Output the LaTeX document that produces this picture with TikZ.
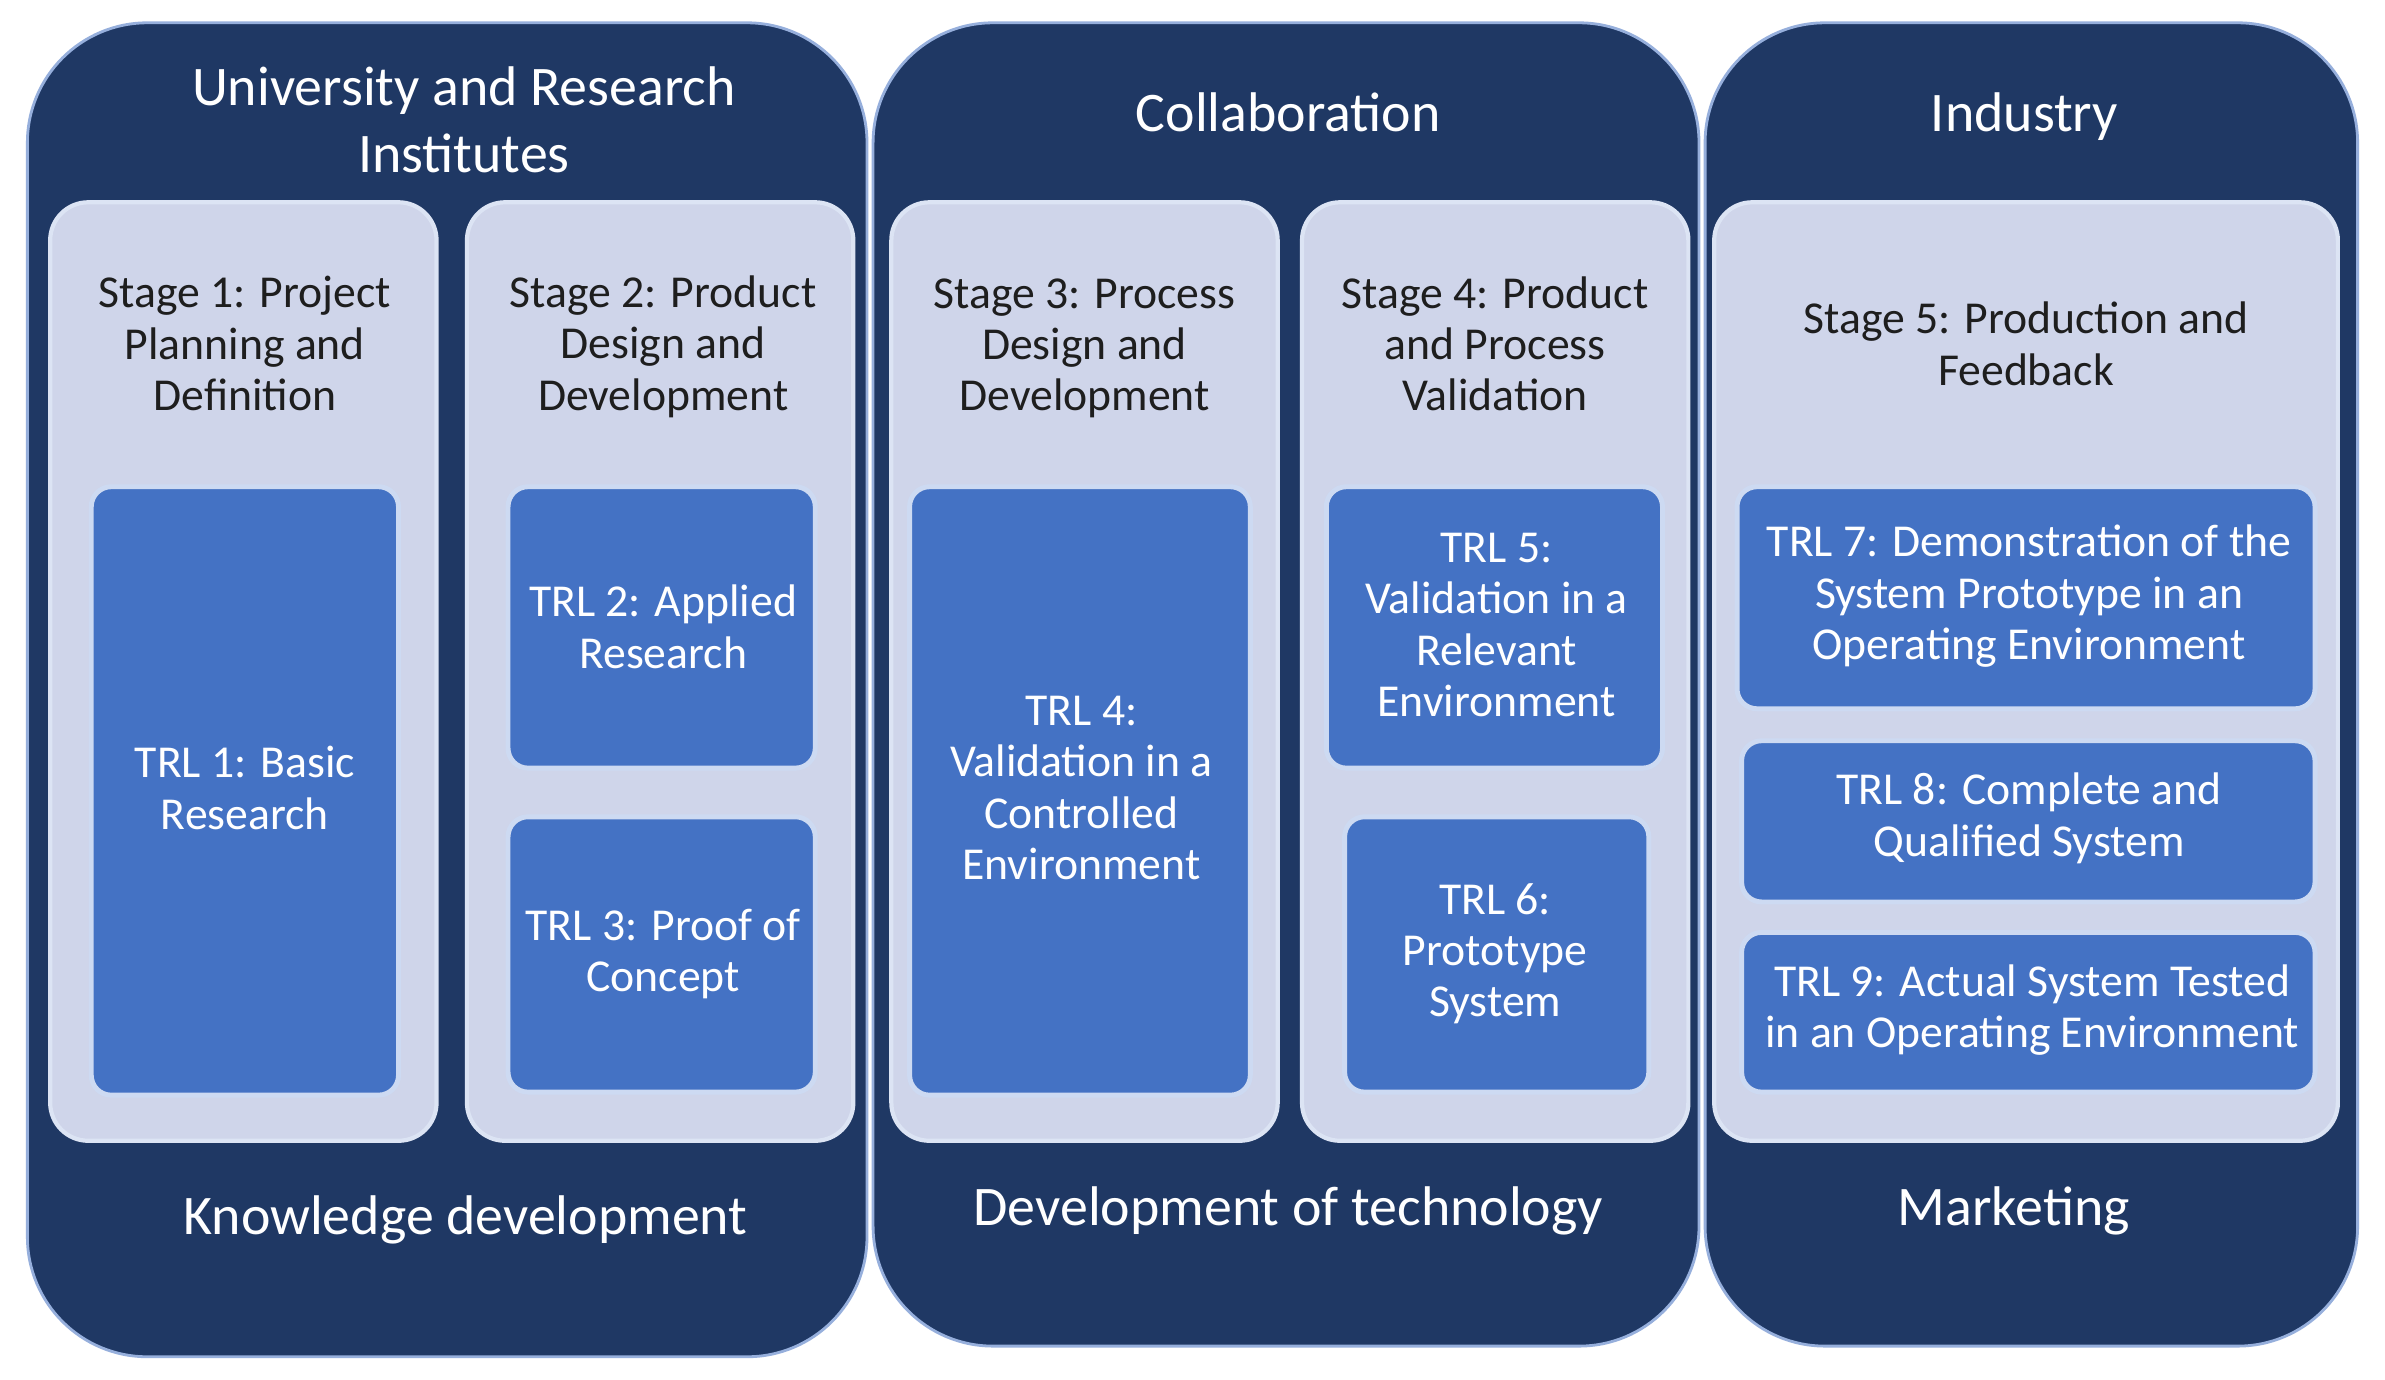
\documentclass[tikz,border=0pt]{standalone}
\usepackage{fontspec}
\setmainfont{Carlito}
\usetikzlibrary{fit}
\definecolor{navy}{RGB}{31,56,100}
\definecolor{pale}{RGB}{207,213,234}
\definecolor{paleedge}{RGB}{220,228,244}
\definecolor{trlblue}{RGB}{68,114,196}
\definecolor{trledge}{RGB}{205,218,242}
\definecolor{panedge}{RGB}{150,175,220}
\definecolor{darktext}{RGB}{30,30,30}
\begin{document}
\begin{tikzpicture}[x=0.01521cm,y=-0.01521cm,
  panel/.style={fill=navy, draw=panedge, line width=0.8pt, rounded corners=1.2cm, inner sep=0pt},
  stagebox/.style={fill=pale, draw=paleedge, line width=1.2pt, rounded corners=0.38cm, inner sep=0pt},
  trlbox/.style={fill=trlblue, draw=trledge, line width=1.4pt, rounded corners=0.2cm, inner sep=0pt},
  titletext/.style={text=white, font=\fontsize{15.9}{19}\selectfont, align=center, inner sep=0pt},
  bottomtext/.style={text=white, font=\fontsize{15.9}{19}\selectfont, align=center, inner sep=0pt},
  stagetext/.style={text=darktext, font=\fontsize{13}{14.6}\selectfont, align=center, inner sep=0pt},
  trltext/.style={text=white, font=\fontsize{13}{14.6}\selectfont, align=center, inner sep=0pt}
]
\useasboundingbox[fill=white] (0,0) rectangle (1568,907);

% outer panels
\node[panel, fit={(18,15) (570,892)}] (p1) {};
\node[panel, fit={(574,15) (1117,885)}] (p2) {};
\node[panel, fit={(1121,15) (1550,885)}] (p3) {};

% stage boxes
\node[stagebox, fit={(33,133) (287,750)}] (s1) {};
\node[stagebox, fit={(307,133) (561,750)}] (s2) {};
\node[stagebox, fit={(586,133) (840,750)}] (s3) {};
\node[stagebox, fit={(856,133) (1110,750)}] (s4) {};
\node[stagebox, fit={(1127,133) (1537,750)}] (s5) {};

% TRL boxes
\node[trlbox, fit={(60,320) (262,720)}] (t1) {};
\node[trlbox, fit={(334,320) (536,505)}] (t2) {};
\node[trlbox, fit={(334,537) (536,718)}] (t3) {};
\node[trlbox, fit={(598,320) (822,720)}] (t4) {};
\node[trlbox, fit={(872,320) (1093,505)}] (t5) {};
\node[trlbox, fit={(884,537) (1084,718)}] (t6) {};
\node[trlbox, fit={(1142,320) (1522,466)}] (t7) {};
\node[trlbox, fit={(1145,487) (1522,593)}] (t8) {};
\node[trlbox, fit={(1145,613) (1522,718)}] (t9) {};

% titles
\node[titletext] (h1) at (305,79) {University and Research\\Institutes};
\node[titletext] (h2) at (847,74) {Collaboration};
\node[titletext] (h3) at (1331,77) {Industry};

% stage texts
\node[stagetext] (l1) at (161,226) {Stage 1: Project\\Planning and\\Definition};
\node[stagetext] (l2) at (436,228) {Stage 2: Product\\Design and\\Development};
\node[stagetext] (l3) at (713,229) {Stage 3: Process\\Design and\\Development};
\node[stagetext] (l4) at (983,226) {Stage 4: Product\\and Process\\Validation};
\node[stagetext] (l5) at (1332,226) {Stage 5: Production and\\Feedback};

% TRL texts
\node[trltext] (r1) at (161,518) {TRL 1: Basic\\Research};
\node[trltext] (r2) at (436,412) {TRL 2: Applied\\Research};
\node[trltext] (r3) at (436,627) {TRL 3: Proof of\\Concept};
\node[trltext] (r4) at (711,518) {TRL 4:\\Validation in a\\Controlled\\Environment};
\node[trltext] (r5) at (984,411) {TRL 5:\\Validation in a\\Relevant\\Environment};
\node[trltext] (r6) at (983,627) {TRL 6:\\Prototype\\System};
\node[trltext] (r7) at (1334,392) {TRL 7: Demonstration of the\\System Prototype in an\\Operating Environment};
\node[trltext] (r8) at (1334,538) {TRL 8: Complete and\\Qualified System};
\node[trltext] (r9) at (1336,664) {TRL 9: Actual System Tested\\in an Operating Environment};

% bottom labels
\node[bottomtext] (b1) at (306,802) {Knowledge development};
\node[bottomtext] (b2) at (847,796) {Development of technology};
\node[bottomtext] (b3) at (1324,796) {Marketing};
\end{tikzpicture}
\end{document}
